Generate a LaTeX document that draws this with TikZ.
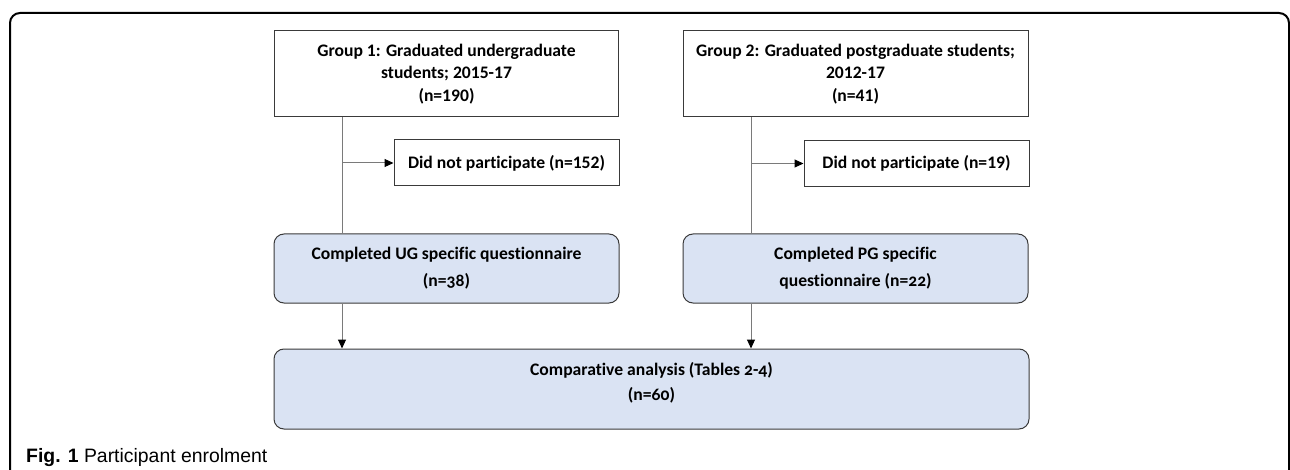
\documentclass[tikz,border=0pt]{standalone}
\usepackage{fontspec}
\setmainfont{Carlito}[Ligatures=NoCommon]
\newfontfamily\capfont{Liberation Sans}
\newfontfamily\onumfont{Carlito}[Numbers=OldStyle,Ligatures=NoCommon]
\usetikzlibrary{arrows.meta}
\definecolor{boxblue}{HTML}{DAE3F3}
\definecolor{boxline}{HTML}{3A3A3A}
\definecolor{conline}{HTML}{7A7A7A}
\tikzset{
  plainbox/.style={draw=boxline, line width=1pt, fill=white, rectangle, align=center,
    font=\bfseries\fontsize{17.6}{22.8}\selectfont, inner sep=0pt},
  bluebox/.style={plainbox, fill=boxblue, rounded corners=10pt, font=\onumfont\bfseries\fontsize{17.6}{27}\selectfont},
  conn/.style={draw=conline, line width=1pt},
  arr/.style={conn, -{Triangle[length=9pt,width=8pt,color=black]}},
}
\begin{document}
\begin{tikzpicture}[x=1pt,y=-1pt]
\useasboundingbox (0,0) rectangle (1290,470);
\clip (0,0) rectangle (1290,470);
\draw[line width=2pt, rounded corners=10pt] (10,480) -- (10,13) -- (1289,13) -- (1289,480);
% top boxes
\node[plainbox, minimum width=344pt, minimum height=86pt] (g1) at (446.5,74) {Group 1: Graduated undergraduate\\students; 2015-17\\(n=190)};
\node[plainbox, minimum width=345pt, minimum height=86pt] (g2) at (855.5,74) {Group 2: Graduated postgraduate students;\\2012-17\\(n=41)};
\node[plainbox, minimum width=225pt, minimum height=46pt] (d1) at (506.5,163) {Did not participate (n=152)};
\node[plainbox, minimum width=225pt, minimum height=46pt] (d2) at (916.5,163.5) {Did not participate (n=19)};
\node[bluebox, minimum width=345pt, minimum height=69pt] (ug) at (446.5,268.5) {Completed UG specific questionnaire\\(n=38)};
\node[bluebox, minimum width=345pt, minimum height=69pt] (pg) at (855.5,268.5) {Completed PG specific\\questionnaire (n=22)};
\node[bluebox, minimum width=755pt, minimum height=80pt] (comp) at (651.5,389) {};
\node[font=\onumfont\bfseries\fontsize{17.6}{25}\selectfont, align=center, inner sep=0pt] (comptext) at (651.5,383) {Comparative analysis (Tables 2-4)\\(n=60)};
% connectors
\coordinate (j1) at (342,163);
\coordinate (j2) at (751,163.5);
\draw[conn] (g1.south -| j1) -- (ug.north -| j1);
\draw[conn] (g2.south -| j2) -- (pg.north -| j2);
\draw[arr] (j1) -- (d1.west);
\draw[arr] (j2) -- (d2.west);
\draw[arr] (ug.south -| j1) -- (comp.north -| j1);
\draw[arr] (pg.south -| j2) -- (comp.north -| j2);
% caption
\node[anchor=base west, inner sep=0pt, font=\capfont\fontsize{19.4}{21}\selectfont] (cap) at (26,462) {\textbf{Fig. 1} Participant enrolment};
\end{tikzpicture}
\end{document}
